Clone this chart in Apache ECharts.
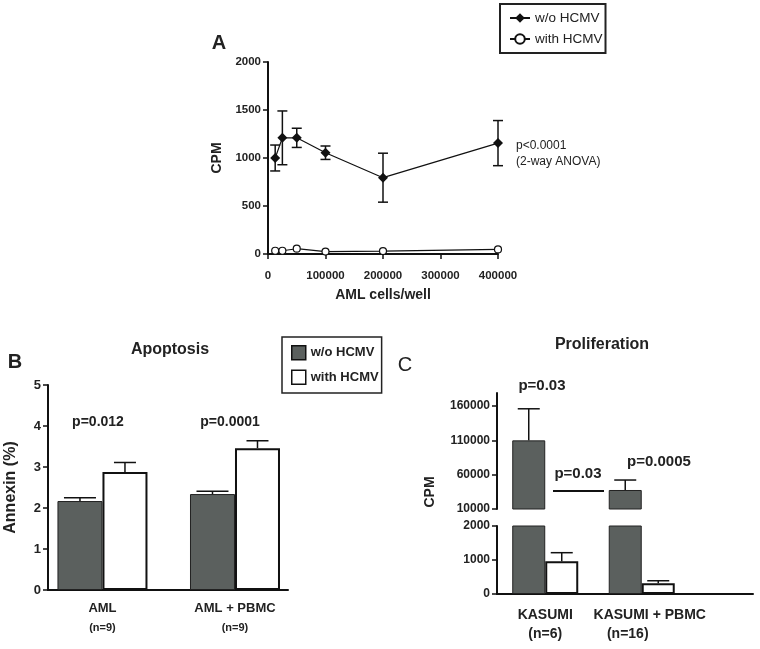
<!DOCTYPE html>
<html>
<head>
<meta charset="utf-8">
<script src="https://cdn.jsdelivr.net/npm/echarts@6/dist/echarts.min.js"></script>
<style>
  html, body { margin: 0; padding: 0; background: #fff; }
  #main { width: 760px; height: 649px; }
</style>
</head>
<body>
<div id="main"></div>
<script>
// Panel A: CPM vs AML cells/well
const aCells = [12500, 25000, 50000, 100000, 200000, 400000];
const aWithout = [1000, 1210, 1210, 1055, 795, 1155];
const aWithoutErr = [135, 280, 100, 70, 255, 235];
const aWith = [34, 34, 55, 25, 30, 48];

// Panel B: apoptosis
const bCats = ['AML', 'AML + PBMC'];
const bN = ['(n=9)', '(n=9)'];
const bWithout = [2.17, 2.34];
const bWithoutErr = [0.08, 0.07];
const bWith = [2.88, 3.46];
const bWithErr = [0.23, 0.18];

// Panel C: proliferation (broken axis)
const cCats = ['KASUMI', 'KASUMI + PBMC'];
const cN = ['(n=6)', '(n=16)'];
const cWithout = [110000, 37700];
const cWithoutErr = [46000, 14500];
const cWith = [960, 315];
const cWithErr = [255, 75];
const cUpperTicks = [10000, 60000, 110000, 160000];

const FONT = '"Liberation Sans", Arial, sans-serif';
const INK = '#222';
const DARK = '#5b605e';

let myChart = echarts.init(document.getElementById('main'));

// groups sit at x = 1, 2 on a value axis
const pos = arr => arr.map((_, i) => i + 1);
const pairs = (xs, vs) => vs.map((v, i) => [xs[i], v]);
const triples = (xs, vs, es) => vs.map((v, i) => [xs[i], v, es[i]]);

// error bar drawer, offset = px from group centre
function errBars(offset, capW, twoSided) {
  return function (params, api) {
    let x = api.value(0), v = api.value(1), e = api.value(2);
    let p = api.coord([x, v]);
    let t = api.coord([x, v + e]);
    let b = twoSided ? api.coord([x, v - e]) : p;
    let cx = p[0] + offset;
    let st = {stroke: '#111', lineWidth: 1.5};
    let kids = [
      {type: 'line', shape: {x1: cx, y1: b[1], x2: cx, y2: t[1]}, style: st},
      {type: 'line', shape: {x1: cx - capW / 2, y1: t[1], x2: cx + capW / 2, y2: t[1]}, style: st}
    ];
    if (twoSided) kids.push({type: 'line', shape: {x1: cx - capW / 2, y1: b[1], x2: cx + capW / 2, y2: b[1]}, style: st});
    return {type: 'group', children: kids};
  };
}

const tickLabel = (size) => ({color: INK, fontFamily: FONT, fontWeight: 'bold', fontSize: size});
const plain = v => String(v);
const axLine = {show: true, onZero: false, lineStyle: {color: '#111', width: 2}};
const yTick = {show: true, length: 5, lineStyle: {color: '#111', width: 1.5}};

function txt(x, y, text, size, opts) {
  return Object.assign({
    type: 'text', x: x, y: y,
    style: {text: text, fill: INK, font: 'bold ' + size + 'px ' + FONT, textAlign: 'center', textVerticalAlign: 'middle'}
  }, opts || {});
}

let bX = pos(bCats), cX = pos(cCats);

let option = {
  backgroundColor: '#fff',
  animation: false,
  grid: [
    {left: 268, top: 62, width: 230, height: 192},
    {left: 48, top: 385, width: 240, height: 205},
    {left: 497, top: 393, width: 256, height: 116},
    {left: 497, top: 526, width: 256, height: 68}
  ],
  legend: [
    {
      data: ['w/o HCMV', 'with HCMV'],
      orient: 'vertical', left: 500, top: 4,
      padding: [7, 3, 7, 9], itemGap: 7, itemWidth: 20, itemHeight: 12,
      borderColor: '#222', borderWidth: 2,
      textStyle: {fontFamily: FONT, fontSize: 13.5, color: INK}
    },
    {
      data: ['B: w/o HCMV', 'B: with HCMV'],
      formatter: n => n.slice(3),
      orient: 'vertical', left: 282, top: 337, icon: 'rect',
      padding: [8, 3, 8, 9], itemGap: 9, itemWidth: 14, itemHeight: 14,
      borderColor: '#222', borderWidth: 1.5,
      itemStyle: {borderColor: '#111', borderWidth: 1.5},
      textStyle: {fontFamily: FONT, fontSize: 13, fontWeight: 'bold', color: INK}
    }
  ],
  xAxis: [
    {
      gridIndex: 0, type: 'value', min: 0, max: 400000, interval: 100000,
      name: 'AML cells/well', nameLocation: 'middle', nameGap: 34,
      nameTextStyle: tickLabel(14),
      axisLine: axLine, axisTick: {length: 5, lineStyle: {color: '#111', width: 1.5}},
      axisLabel: Object.assign(tickLabel(11.5), {margin: 16, formatter: plain}),
      splitLine: {show: false}
    },
    {
      gridIndex: 1, type: 'value', min: 0.589, max: 2.4,
      axisLine: axLine, axisTick: {show: false}, splitLine: {show: false},
      axisLabel: {
        margin: 8, lineHeight: 20, customValues: bX,
        formatter: v => {
          let i = Math.round(v) - 1;
          return '{a|' + bCats[i] + '}\n{n|' + bN[i] + '}';
        },
        rich: {a: tickLabel(13), n: tickLabel(11)}
      }
    },
    {
      gridIndex: 2, type: 'value', min: 0.5, max: 3.153,
      axisLine: {show: false}, axisTick: {show: false}, axisLabel: {show: false}, splitLine: {show: false}
    },
    {
      gridIndex: 3, type: 'value', min: 0.5, max: 3.153,
      axisLine: axLine, axisTick: {show: false}, splitLine: {show: false},
      axisLabel: {
        margin: 12, lineHeight: 19, customValues: cX,
        formatter: v => {
          let i = Math.round(v) - 1;
          return i === 0
            ? '{k|' + cCats[i] + '}\n{k|' + cN[i] + '}'
            : '{k2|' + cCats[i] + '}\n{n2|' + cN[i] + '}';
        },
        rich: {
          k: tickLabel(14),
          k2: Object.assign(tickLabel(14), {padding: [0, 0, 0, 16]}),
          n2: Object.assign(tickLabel(14), {padding: [0, 28, 0, 0]})
        }
      }
    }
  ],
  yAxis: [
    {
      gridIndex: 0, type: 'value', min: 0, max: 2000, interval: 500,
      name: 'CPM', nameLocation: 'middle', nameGap: 44, nameTextStyle: tickLabel(14),
      axisLine: axLine, axisTick: yTick,
      axisLabel: Object.assign(tickLabel(11.5), {margin: 7, formatter: plain}),
      splitLine: {show: false}
    },
    {
      gridIndex: 1, type: 'value', min: 0, max: 5, interval: 1,
      name: 'Annexin (%)', nameLocation: 'middle', nameGap: 29, nameTextStyle: tickLabel(16),
      axisLine: axLine, axisTick: yTick,
      axisLabel: Object.assign(tickLabel(13), {margin: 7}),
      splitLine: {show: false}
    },
    {
      gridIndex: 2, type: 'value', min: 10000, max: 179000,
      axisLine: axLine,
      axisTick: Object.assign({customValues: cUpperTicks}, yTick),
      axisLabel: Object.assign(tickLabel(12), {margin: 7, customValues: cUpperTicks, formatter: plain}),
      splitLine: {show: false}
    },
    {
      gridIndex: 3, type: 'value', min: 0, max: 2000, interval: 1000,
      axisLine: axLine, axisTick: yTick,
      axisLabel: Object.assign(tickLabel(12), {margin: 7, formatter: plain}),
      splitLine: {show: false}
    }
  ],
  series: [
    // A
    {
      name: 'w/o HCMV', type: 'line', xAxisIndex: 0, yAxisIndex: 0,
      data: pairs(aCells, aWithout),
      symbol: 'diamond', symbolSize: 10,
      itemStyle: {color: '#111'}, lineStyle: {color: '#111', width: 1.2}, z: 4
    },
    {
      name: 'with HCMV', type: 'line', xAxisIndex: 0, yAxisIndex: 0,
      data: pairs(aCells, aWith),
      symbol: 'circle', symbolSize: 7,
      itemStyle: {color: '#fff', borderColor: '#111', borderWidth: 1.2},
      lineStyle: {color: '#111', width: 1.2}, z: 4
    },
    {
      type: 'custom', xAxisIndex: 0, yAxisIndex: 0,
      data: triples(aCells, aWithout, aWithoutErr),
      renderItem: errBars(0, 10, true), z: 3
    },
    // B
    {
      name: 'B: w/o HCMV', type: 'bar', xAxisIndex: 1, yAxisIndex: 1,
      data: pairs(bX, bWithout), barWidth: 45, barGap: '0%',
      itemStyle: {color: DARK, borderColor: '#222', borderWidth: 1}
    },
    {
      name: 'B: with HCMV', type: 'bar', xAxisIndex: 1, yAxisIndex: 1,
      data: pairs(bX, bWith), barWidth: 45, barGap: '0%',
      itemStyle: {color: '#fff', borderColor: '#111', borderWidth: 2}
    },
    {
      type: 'custom', xAxisIndex: 1, yAxisIndex: 1,
      data: triples(bX, bWithout, bWithoutErr),
      renderItem: errBars(-22.5, 32, false), z: 3
    },
    {
      type: 'custom', xAxisIndex: 1, yAxisIndex: 1,
      data: triples(bX, bWith, bWithErr),
      renderItem: errBars(22.5, 22, false), z: 3
    },
    // C upper
    {
      name: 'C: w/o HCMV', type: 'bar', xAxisIndex: 2, yAxisIndex: 2,
      data: pairs(cX, cWithout), barWidth: 33, barGap: '0%',
      itemStyle: {color: DARK, borderColor: '#222', borderWidth: 1}
    },
    {
      name: 'C: with HCMV', type: 'bar', xAxisIndex: 2, yAxisIndex: 2,
      data: pairs(cX, cWith), barWidth: 33, barGap: '0%',
      itemStyle: {color: '#fff', borderColor: '#111', borderWidth: 2}
    },
    {
      type: 'custom', xAxisIndex: 2, yAxisIndex: 2, clip: true,
      data: triples(cX, cWithout, cWithoutErr),
      renderItem: errBars(-16.5, 22, false), z: 3
    },
    // C lower
    {
      name: 'C: w/o HCMV', type: 'bar', xAxisIndex: 3, yAxisIndex: 3,
      data: pairs(cX, cWithout), barWidth: 33, barGap: '0%',
      itemStyle: {color: DARK, borderColor: '#222', borderWidth: 1}
    },
    {
      name: 'C: with HCMV', type: 'bar', xAxisIndex: 3, yAxisIndex: 3,
      data: pairs(cX, cWith), barWidth: 33, barGap: '0%',
      itemStyle: {color: '#fff', borderColor: '#111', borderWidth: 2}
    },
    {
      type: 'custom', xAxisIndex: 3, yAxisIndex: 3, clip: true,
      data: triples(cX, cWith, cWithErr),
      renderItem: errBars(16.5, 22, false), z: 3
    }
  ],
  graphic: [
    txt(219, 43, 'A', 20),
    {type: 'text', x: 516, y: 146, style: {text: 'p<0.0001', fill: INK, font: '12px ' + FONT, textAlign: 'left', textVerticalAlign: 'middle'}},
    {type: 'text', x: 516, y: 162, style: {text: '(2-way ANOVA)', fill: INK, font: '12px ' + FONT, textAlign: 'left', textVerticalAlign: 'middle'}},
    txt(15, 362, 'B', 20),
    txt(170, 350, 'Apoptosis', 16),
    txt(98, 422, 'p=0.012', 14),
    txt(230, 422, 'p=0.0001', 14),
    {type: 'text', x: 405, y: 365, style: {text: 'C', fill: INK, font: '20px ' + FONT, textAlign: 'center', textVerticalAlign: 'middle'}},
    txt(602, 345, 'Proliferation', 16),
    txt(430, 492, 'CPM', 14, {rotation: Math.PI / 2}),
    txt(542, 386, 'p=0.03', 15),
    txt(578, 474, 'p=0.03', 15),
    txt(659, 462, 'p=0.0005', 15),
    {type: 'line', shape: {x1: 553, y1: 491, x2: 604, y2: 491}, style: {stroke: '#111', lineWidth: 2}}
  ]
};
myChart.setOption(option);
</script>
</body>
</html>
